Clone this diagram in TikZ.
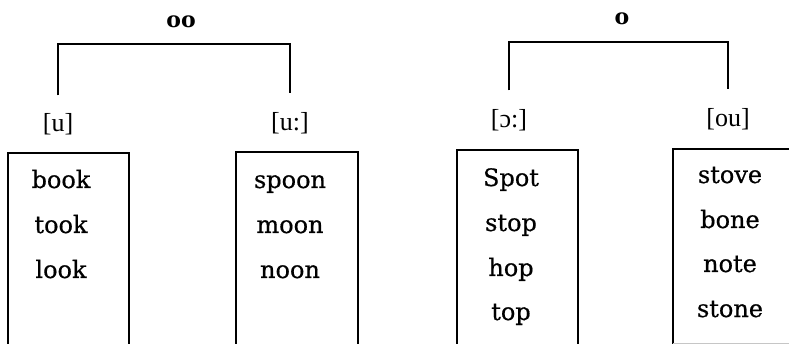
\documentclass[tikz,border=0pt]{standalone}
\usepackage{fontspec}
\setmainfont{DejaVu Serif}
\newfontfamily\labfont{Liberation Serif}
\newfontfamily\wordfont[FakeBold=0.6]{DejaVu Serif}
\begin{document}
\begin{tikzpicture}[x=1pt,y=-1pt,line width=1.3pt,
  word/.style={anchor=base,inner sep=0pt,font=\wordfont\fontsize{24}{24}\selectfont},
  lab/.style={anchor=base,inner sep=0pt,font=\labfont\fontsize{26}{26}\selectfont},
  head/.style={anchor=base,inner sep=0pt,font=\fontsize{22}{22}\selectfont\bfseries},
  brk/.style={line width=1.3pt},
  boxline/.style={line width=1.3pt}]
\useasboundingbox (0,0) rectangle (789,344);
% headings
\node[head] (oo) at (181,28) {oo};
\node[head] (o) at (622,25) {o};
% labels
\node[lab] (u) at (58,132) {[u]};
\node[lab] (uu) at (290,131) {[u:]};
\node[lab] (ao) at (509,128) {[ɔ:]};
\node[lab] (ou) at (728,127) {[ou]};
% brackets
\draw[brk] ([yshift=18pt]u.north) |- ([yshift=-15pt]oo.south) -| ([yshift=19pt]uu.north);
\draw[brk] ([yshift=19pt]ao.north) |- ([yshift=-16pt]o.south) -| ([yshift=19pt]ou.north);
% boxes
\coordinate (b1tl) at (8,153);   \coordinate (b1tr) at (129,153);
\coordinate (b2tl) at (236,152); \coordinate (b2tr) at (358,152);
\coordinate (b3tl) at (457,150); \coordinate (b3tr) at (578,150);
\coordinate (b4tl) at (673,149); \coordinate (b4tr) at (789,149);
\draw[boxline] (b1tl |- 0,344) -- (b1tl) -- (b1tr) -- (b1tr |- 0,344);
\draw[boxline] (b2tl |- 0,344) -- (b2tl) -- (b2tr) -- (b2tr |- 0,344);
\draw[boxline] (b3tl |- 0,344) -- (b3tl) -- (b3tr) -- (b3tr |- 0,344);
\draw[boxline] (b4tl |- 0,344) -- (b4tl) -- (b4tr);
\draw[gray!45,line width=1pt] (b4tl |- 0,343) -- (b4tr |- 0,343);
% words
\node[word] (w11) at (61,188) {book};
\node[word] (w12) at (61,233) {took};
\node[word] (w13) at (61,278) {look};
\node[word] (w21) at (290,188) {spoon};
\node[word] (w22) at (290,233) {moon};
\node[word] (w23) at (290,278) {noon};
\node[word] (w31) at (511,186) {Spot};
\node[word] (w32) at (511,231) {stop};
\node[word] (w33) at (511,276) {hop};
\node[word] (w34) at (511,320) {top};
\node[word] (w41) at (730,183) {stove};
\node[word] (w42) at (730,228) {bone};
\node[word] (w43) at (730,272) {note};
\node[word] (w44) at (730,317) {stone};
\end{tikzpicture}
\end{document}
